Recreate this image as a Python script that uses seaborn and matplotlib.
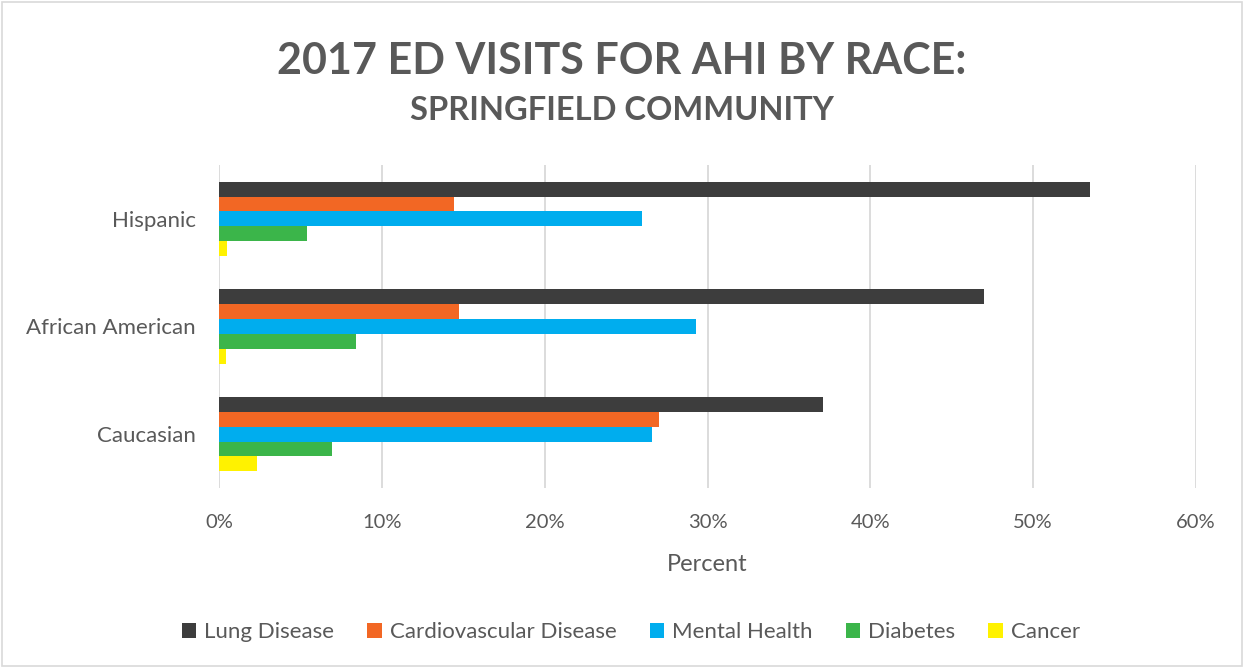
import matplotlib
matplotlib.use("Agg")
import matplotlib.pyplot as plt
import seaborn as sns
import pandas as pd
from matplotlib.patches import Rectangle
from matplotlib.ticker import PercentFormatter

# Share of ED visits (%) for each condition, by race
races = ["Hispanic", "African American", "Caucasian"]
conditions = ["Lung Disease", "Cardiovascular Disease", "Mental Health", "Diabetes", "Cancer"]
lung_disease = [53.5, 47.0, 37.1]
cardiovascular = [14.4, 14.7, 27.0]
mental_health = [26.0, 29.3, 26.6]
diabetes = [5.4, 8.4, 6.9]
cancer = [0.5, 0.4, 2.3]
x_ticks = [0, 10, 20, 30, 40, 50, 60]

colors = ["#3d3d3d", "#f26724", "#00adee", "#3bb54a", "#fff200"]

series = [lung_disease, cardiovascular, mental_health, diabetes, cancer]
df = pd.DataFrame(
    [(r, c, v) for c, vals in zip(conditions, series) for r, v in zip(races, vals)],
    columns=["Race", "Condition", "Percent"],
)

sns.set_theme(style="white")
plt.rcParams["font.family"] = ["Lato", "DejaVu Sans"]
text_color = "#595959"

fig = plt.figure(figsize=(12.44, 6.68), dpi=100)
fig.patches.append(Rectangle((0.002, 0.003), 0.996, 0.994, transform=fig.transFigure,
                             fill=False, edgecolor="#d9d9d9", linewidth=1.2))
ax = fig.add_axes([0.1763, 0.2695, 0.785, 0.4835])

sns.barplot(data=df, y="Race", x="Percent", hue="Condition", order=races,
            hue_order=conditions, palette=colors, orient="h", width=0.69,
            saturation=1, linewidth=0, ax=ax, legend=False, errorbar=None)

ax.set_xlim(0, 60)
ax.set_xticks(x_ticks)
ax.xaxis.set_major_formatter(PercentFormatter(decimals=0))
ax.grid(axis="x", color="#d9d9d9", linewidth=1.3)
ax.grid(axis="y", visible=False)
ax.set_axisbelow(True)
for s in ax.spines.values():
    s.set_visible(False)
ax.tick_params(axis="x", length=0, pad=19, labelsize=14.5, labelcolor=text_color)
ax.tick_params(axis="y", length=0, pad=17, labelsize=16, labelcolor=text_color)
ax.set_ylabel("")
ax.set_xlabel("Percent", fontsize=17, color=text_color, labelpad=16)

fig.text(0.5, 1 - 61 / 668, "2017 ED VISITS FOR AHI BY RACE:", ha="center", va="center",
         fontsize=31, fontweight="bold", color=text_color)
fig.text(0.5, 1 - 110 / 668, "SPRINGFIELD COMMUNITY", ha="center", va="center",
         fontsize=23.5, fontweight="bold", color=text_color)

handles = [Rectangle((0, 0), 1, 1, facecolor=c, edgecolor="none") for c in colors]
fig.legend(handles, conditions, loc="center", bbox_to_anchor=(0.507, 1 - 632 / 668),
           ncol=5, frameon=False, fontsize=16, labelcolor=text_color,
           handlelength=0.65, handleheight=0.65, handletextpad=0.35, columnspacing=1.5)

fig.savefig("out.png", dpi=100)
